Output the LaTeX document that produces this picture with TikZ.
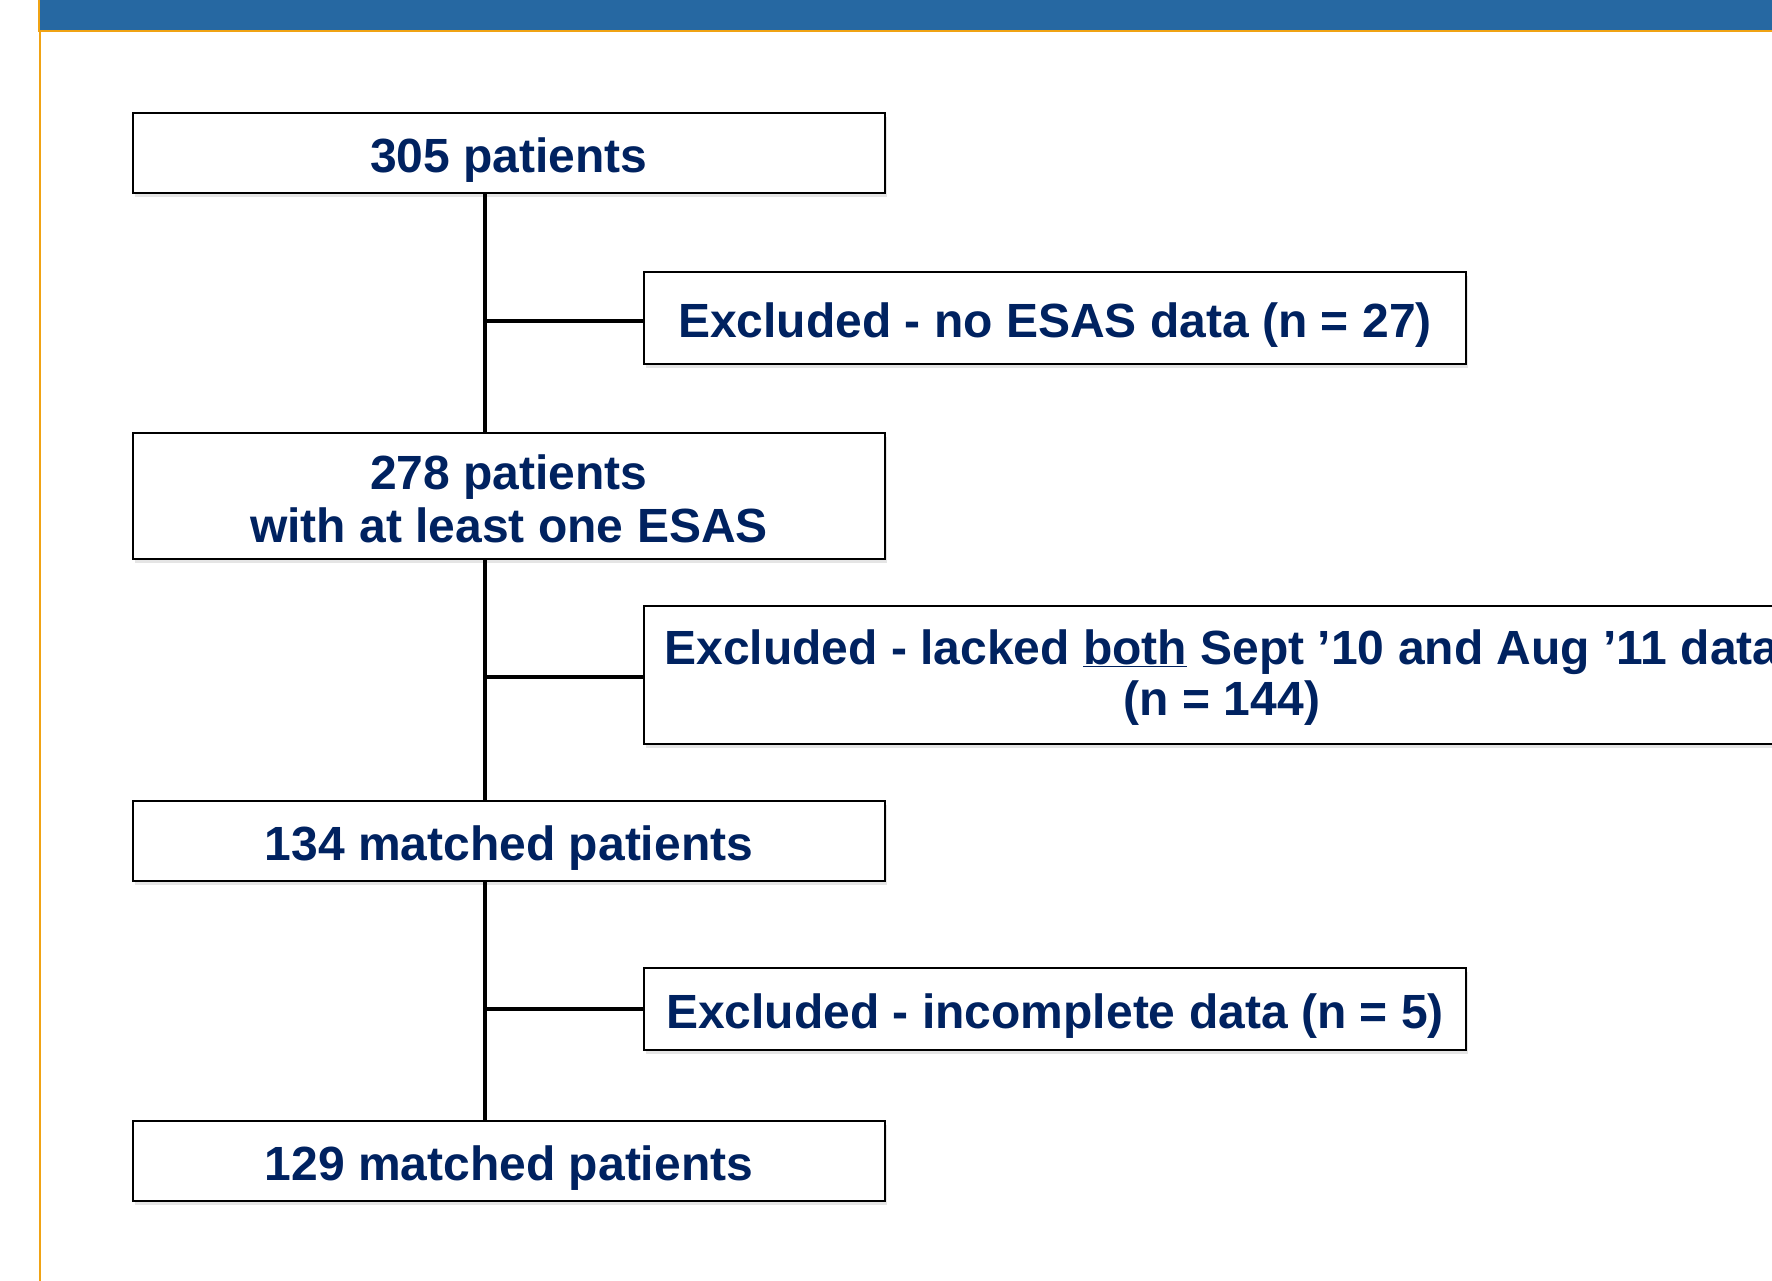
\documentclass[tikz,border=0pt]{standalone}
\usepackage{fontspec}
\setmainfont{Liberation Sans}
\usetikzlibrary{shadows}
\definecolor{navy}{RGB}{0,34,96}
\definecolor{banner}{RGB}{38,104,162}
\definecolor{orangeline}{RGB}{240,163,20}
\begin{document}
\begin{tikzpicture}[x=1pt,y=-1pt,
  box/.style={draw=black,line width=2.5pt,fill=white,inner sep=0pt,
    font=\fontsize{48}{55}\selectfont\bfseries,text=navy,align=center,
    drop shadow={shadow xshift=2pt,shadow yshift=-4pt,fill=black!25,opacity=0.4}},
  oneline/.style={text height=44pt,text depth=5pt},
  conn/.style={line width=3.8pt,draw=black}]
\useasboundingbox (0,0) rectangle (1772,1280);
\clip (0,0) rectangle (1772,1280);
% banner
\fill[banner] (38,-5) rectangle (1780,30);
\draw[orangeline,line width=2.5pt] (39,-5) -- (39,31) -- (1780,31);
\draw[orangeline,line width=2.5pt] (40,31) -- (40,1290);
% boxes
\node[box,oneline,minimum width=752pt,minimum height=80pt] (b1) at (509,153) {305 patients};
\node[box,oneline,minimum width=822pt,minimum height=92pt] (e1) at (1055,318) {Excluded - no ESAS data (n = 27)};
\node[box,minimum width=752pt,minimum height=126pt] (b2) at (509,496) {\rule{0pt}{40pt}278 patients\\[-2pt]with at least one ESAS};
\node[box,minimum width=1156pt,minimum height=138pt,font=\fontsize{48}{51}\selectfont\bfseries] (e2) at (1222,675) {\rule{0pt}{40pt}Excluded - lacked \underline{both} Sept ’10 and Aug ’11 data\\(n = 144)};
\node[box,oneline,minimum width=752pt,minimum height=80pt] (b3) at (509,841) {134 matched patients};
\node[box,oneline,minimum width=822pt,minimum height=82pt] (e3) at (1055,1009) {Excluded - incomplete data (n = 5)};
\node[box,oneline,minimum width=752pt,minimum height=80pt] (b4) at (509,1161) {129 matched patients};
\coordinate (tx) at (485,0);
% connectors
\draw[conn] (b1.south -| tx) -- (b2.north -| tx);
\draw[conn] (b2.south -| tx) -- (b3.north -| tx);
\draw[conn] (b3.south -| tx) -- (b4.north -| tx);
\draw[conn] ([yshift=-3pt]e1.west -| tx) -- ([yshift=-3pt]e1.west);
\draw[conn] ([yshift=-2pt]e2.west -| tx) -- ([yshift=-2pt]e2.west);
\draw[conn] (e3.west -| tx) -- (e3.west);
\end{tikzpicture}
\end{document}
